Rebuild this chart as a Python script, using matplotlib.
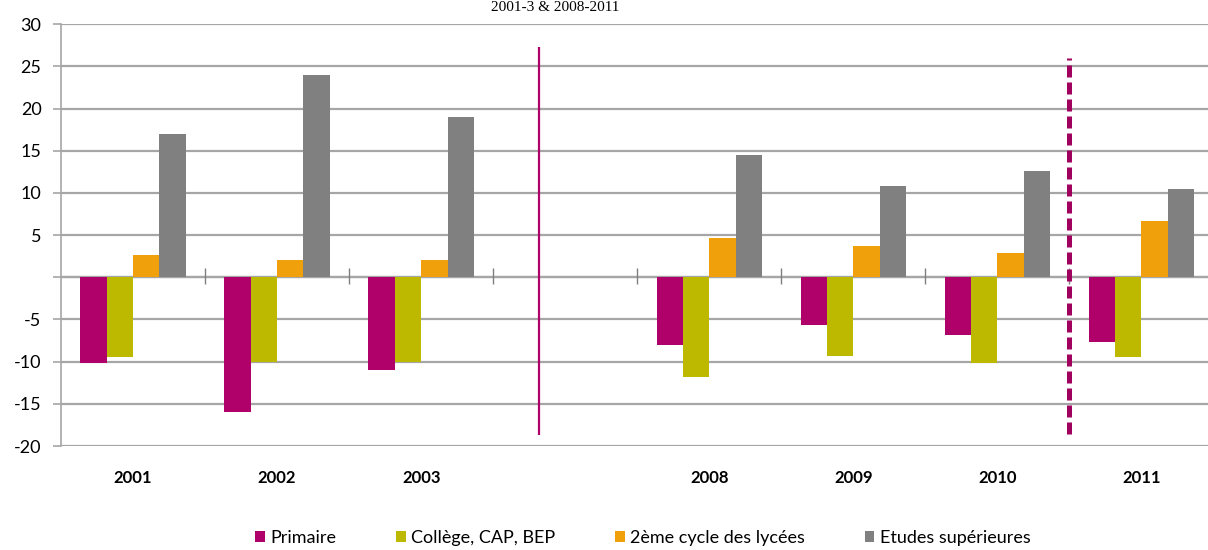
import numpy as np
import matplotlib
matplotlib.use("Agg")
import matplotlib.pyplot as plt

# categories (one empty slot between the two periods)
annees = ['2001', '2002', '2003', '', '2008', '2009', '2010', '2011']
series = ['Primaire', 'Collège, CAP, BEP', '2ème cycle des lycées', 'Etudes supérieures']
primaire = [-10.2, -16.0, -11.0, np.nan, -8.0, -5.7, -6.8, -7.7]
college = [-9.4, -10.0, -10.0, np.nan, -11.8, -9.3, -10.1, -9.5]
lycee = [2.6, 2.0, 2.0, np.nan, 4.6, 3.7, 2.9, 6.7]
superieur = [17.0, 24.0, 19.0, np.nan, 14.5, 10.8, 12.6, 10.5]
couleurs = ['#B0006A', '#BDB800', '#F0A00A', '#808080']

# separators: solid one in the gap, dashed one before 2011
sep_plein = (2.82, -18.7, 27.3)
sep_tirets = (6.5, -18.6, 26.0)

fig = plt.figure(figsize=(12.08, 5.5), dpi=100)
ax = fig.add_axes([0.0505, 0.189, 0.954, 0.767])

x = np.arange(len(annees))
w = 0.183
valeurs = [primaire, college, lycee, superieur]
for k, (vals, c, nom) in enumerate(zip(valeurs, couleurs, series)):
    ax.bar(x + (k - 1.5) * w, vals, w, color=c, label=nom, zorder=3)

ax.set_xlim(-0.5, len(annees) - 0.5)
ax.set_ylim(-20, 30)
yt = np.arange(-20, 31, 5)
ax.set_yticks(yt)
ax.set_yticklabels(['' if v == 0 else str(v) for v in yt],
                   fontsize=13, family=['Lato', 'DejaVu Sans'])
ax.yaxis.grid(True, color='#A6A6A6', linewidth=1.6, zorder=0)
ax.tick_params(axis='y', length=6, color='#A6A6A6', width=1.2, pad=8)

ax.set_xticks(x)
ax.set_xticklabels(annees, fontsize=12, fontweight='bold',
                   family=['Lato', 'DejaVu Sans'])
ax.tick_params(axis='x', length=0, pad=17)

for s in ['top', 'right', 'bottom']:
    ax.spines[s].set_visible(False)
ax.spines['left'].set_color('#A6A6A6')
ax.spines['left'].set_linewidth(1.2)

# zero line with small category ticks
ax.axhline(0, color='#A6A6A6', linewidth=1.6, zorder=2)
ax.vlines(x[:-1] + 0.5, -0.8, 1.1, color='#7F7F7F', linewidth=1.0, zorder=2)

ax.vlines(sep_plein[0], sep_plein[1], sep_plein[2], color='#B0006A', linewidth=1.6, zorder=4)
ax.vlines(sep_tirets[0], sep_tirets[1], sep_tirets[2], color='#A0005E', linewidth=3.6,
          linestyles=(0, (2.4, 1.0)), zorder=4)

leg = fig.legend(loc='center', bbox_to_anchor=(0.532, 0.022), ncol=4, frameon=False,
                 handlelength=0.55, handleheight=0.55, handletextpad=0.3,
                 columnspacing=3.3, prop={'family': ['Lato', 'DejaVu Sans'], 'size': 13})

fig.text(0.46, 0.999, '2001-3 & 2008-2011', ha='center', va='top',
         family=['Liberation Serif', 'DejaVu Serif'], fontsize=11)

fig.savefig('out.png', dpi=100)
